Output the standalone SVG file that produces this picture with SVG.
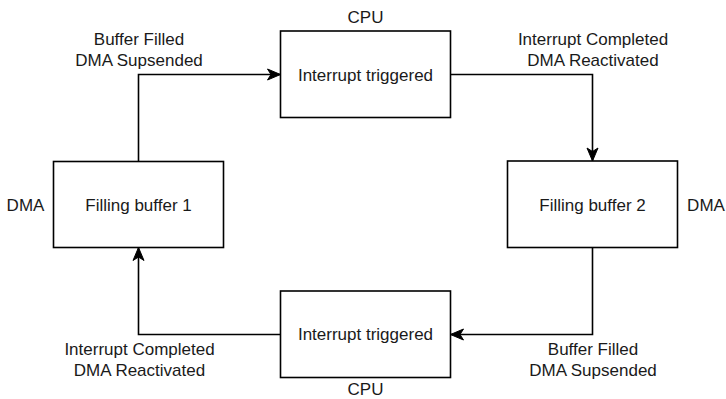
<svg xmlns="http://www.w3.org/2000/svg" width="726" height="399" viewBox="0 0 726 399">
  <style>
    .box { fill: #ffffff; stroke: #000000; stroke-width: 1.6; }
    .edge { fill: none; stroke: #000000; stroke-width: 1.6; }
    text { font-family: "Liberation Sans", Arial, sans-serif; font-size: 17px; fill: #1a1a1a; text-anchor: middle; }
  </style>
  <defs>
    <marker id="arrow" markerUnits="userSpaceOnUse" markerWidth="16" markerHeight="14" refX="14" refY="6" orient="auto" overflow="visible">
      <path d="M14,6 L1,0.5 L4.5,6 L1,11.5 Z" fill="#000000" stroke="#000000" stroke-width="1"/>
    </marker>
  </defs>
  <rect width="726" height="399" fill="#ffffff"/>

  <!-- connectors -->
  <g id="connectors">
    <path class="edge" d="M138.5,161.5 V74.5 H280.5" marker-end="url(#arrow)"/>
    <path class="edge" d="M450.5,74.5 H592.5 V161" marker-end="url(#arrow)"/>
    <path class="edge" d="M592.5,247.5 V334.5 H450.5" marker-end="url(#arrow)"/>
    <path class="edge" d="M280.5,334.5 H138.5 V247.5" marker-end="url(#arrow)"/>
    <text x="139" y="45">Buffer Filled</text>
    <text x="139" y="65.5">DMA Supsended</text>
    <text x="593" y="45">Interrupt Completed</text>
    <text x="593" y="65.5">DMA Reactivated</text>
    <text x="593" y="355">Buffer Filled</text>
    <text x="593" y="375.5">DMA Supsended</text>
    <text x="139.5" y="355">Interrupt Completed</text>
    <text x="139.5" y="375.5">DMA Reactivated</text>
  </g>

  <!-- CPU interrupt (top) -->
  <g id="cpu-top">
    <rect class="box" x="280.5" y="31" width="170" height="86.5"/>
    <text x="365.5" y="80.5">Interrupt triggered</text>
    <text x="365.5" y="23">CPU</text>
  </g>

  <!-- DMA buffer 1 (left) -->
  <g id="dma-buffer1">
    <rect class="box" x="53.5" y="161.5" width="170" height="86"/>
    <text x="138.5" y="210.5">Filling buffer 1</text>
    <text x="25.5" y="210.5">DMA</text>
  </g>

  <!-- DMA buffer 2 (right) -->
  <g id="dma-buffer2">
    <rect class="box" x="507.5" y="161" width="170" height="86.5"/>
    <text x="592.5" y="210.5">Filling buffer 2</text>
    <text x="706" y="210.5">DMA</text>
  </g>

  <!-- CPU interrupt (bottom) -->
  <g id="cpu-bottom">
    <rect class="box" x="280.5" y="291" width="170" height="86.5"/>
    <text x="365.5" y="340">Interrupt triggered</text>
    <text x="365.5" y="395">CPU</text>
  </g>
</svg>
